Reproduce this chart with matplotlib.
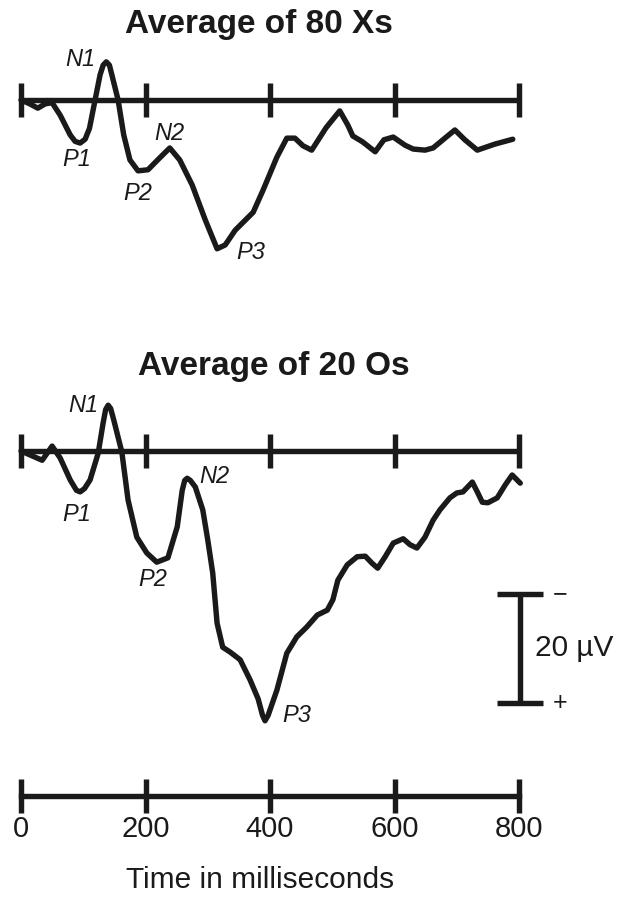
import matplotlib
matplotlib.use("Agg")
import matplotlib.pyplot as plt

plt.rcParams["font.family"] = ["Liberation Sans", "DejaVu Sans"]

# Tiempo (ms) y voltaje (µV, negativo hacia arriba) - promedio de 80 Xs
t_x = [0, 14, 27, 39, 50, 63, 79, 87, 95, 103, 110, 119, 127, 132, 137, 142,
       146, 156, 165, 175, 188, 204, 223, 239, 255, 275, 296, 315, 328, 344,
       373, 389, 411, 427, 440, 453, 467, 490, 512, 525, 533, 549, 569, 583,
       598, 617, 630, 649, 662, 681, 697, 713, 733, 761, 790]
v_x = [0, 0.7, 1.5, 0.7, 0.5, 2.8, 6.4, 7.6, 7.9, 7.2, 5.2, 0, -4.6, -6.4,
       -7.0, -6.4, -4.6, 0, 6.4, 11, 13, 12.8, 10.6, 8.8, 11, 15.6, 22, 27.3,
       26.6, 23.9, 20.6, 16.5, 10.5, 7, 7, 8.4, 9.2, 5.1, 2, 4.6, 6.6, 7.7,
       9.5, 7.3, 6.8, 8.3, 9, 9.2, 8.8, 7, 5.5, 7.3, 9.2, 8.1, 7.2]

# Promedio de 20 Os
t_o = [0, 34, 50, 63, 79, 89, 95, 102, 111, 124, 132, 136, 140, 144, 149,
       162, 172, 186, 202, 218, 236, 251, 259, 263, 267, 272, 280, 292, 300,
       308, 315, 324, 336, 352, 368, 381, 388, 392, 397, 411, 427, 443, 459,
       476, 492, 501, 509, 524, 540, 553, 564, 573, 585, 598, 614, 625, 636,
       649, 662, 673, 689, 700, 710, 725, 733, 741, 750, 765, 778, 789, 802]
v_o = [0, 1.7, -0.9, 1.3, 5.3, 7.2, 7.5, 6.9, 5.3, 0.4, -5.2, -7.6, -8.4,
       -7.8, -5.7, 0.2, 9, 15.8, 18.7, 20.4, 19.6, 13.9, 7.2, 5.4, 5, 5.4,
       6.6, 10.8, 16.3, 22.4, 31.6, 36, 36.9, 38.3, 42, 45.5, 48.5, 49.5,
       48.5, 43.9, 37.1, 34.1, 32.3, 30.1, 29.2, 27.3, 23.7, 20.9, 19.4,
       19.3, 20.6, 21.5, 19.4, 16.9, 16.1, 17.2, 17.8, 15.8, 12.7, 10.8, 8.6,
       7.7, 7.5, 5.7, 7.5, 9.4, 9.5, 8.6, 6.2, 4.4, 5.9]

# Etiquetas de los picos (texto, tiempo, voltaje)
picos_x = [("N1", 96, -7.5), ("P1", 90, 11), ("N2", 239, 6.2),
           ("P2", 188, 17.1), ("P3", 369, 27.9)]
picos_o = [("N1", 100, -8.3), ("P1", 90, 11.6), ("N2", 310, 4.6),
           ("P2", 212, 23.5), ("P3", 443, 48.6)]

ticks = [0, 200, 400, 600, 800]
escala_uv = 20
escala_t = 802
escala_v0 = 26.2

W, H = 625, 900
xlim = (-21 / 0.6225, (625 - 21) / 0.6225)
px_uv = 5.45
lw = 3.9
col = "#1a1a1a"


def panel(top, bottom, base):
    ax = fig.add_axes([0, 1 - bottom / H, 1, (bottom - top) / H])
    ax.set_xlim(*xlim)
    ax.set_ylim((bottom - base) / px_uv, (top - base) / px_uv)
    ax.axis("off")
    return ax


def eje(ax):
    ax.plot([0, 800], [0, 0], color=col, lw=lw, solid_capstyle="butt")
    ax.vlines(ticks, -17 / px_uv, 17 / px_uv, color=col, lw=lw)


fig = plt.figure(figsize=(W / 100, H / 100), dpi=100)

ax1 = panel(40, 290, 100)
eje(ax1)
ax1.plot(t_x, v_x, color=col, lw=lw, solid_capstyle="round",
         solid_joinstyle="round")
for txt, t, v in picos_x:
    ax1.text(t, v, txt, fontsize=17, style="italic", ha="center",
             va="center", color=col)

ax2 = panel(385, 745, 451)
eje(ax2)
ax2.plot(t_o, v_o, color=col, lw=lw, solid_capstyle="round",
         solid_joinstyle="round")
for txt, t, v in picos_o:
    ax2.text(t, v, txt, fontsize=17, style="italic", ha="center",
             va="center", color=col)

# Barra de escala
ax2.vlines(escala_t, escala_v0, escala_v0 + escala_uv, color=col, lw=lw)
ax2.hlines([escala_v0, escala_v0 + escala_uv], 765, 838, color=col, lw=lw)
ax2.text(866, escala_v0, "\u2212", fontsize=18, ha="center", va="center",
         color=col)
ax2.text(866, escala_v0 + escala_uv, "+", fontsize=18, ha="center",
         va="center", color=col)
ax2.text(826, escala_v0 + escala_uv / 2, f"{escala_uv} µV", fontsize=21.5,
         ha="left", va="center", color=col)

# Eje de tiempo
ax3 = fig.add_axes([0, 1 - 796 / H, 1, 30 / H])
ax3.set_xlim(*xlim)
for s in ["top", "left", "right"]:
    ax3.spines[s].set_visible(False)
ax3.spines["bottom"].set_bounds(0, 800)
ax3.spines["bottom"].set_linewidth(lw)
ax3.spines["bottom"].set_color(col)
ax3.set_yticks([])
ax3.set_xticks(ticks)
ax3.tick_params(axis="x", direction="inout", length=24.5, width=lw,
                color=col, labelsize=21, pad=1.5, labelcolor=col)

fig.text(259 / W, 1 - 24 / H, "Average of 80 Xs", fontsize=24,
         weight="bold", ha="center", va="center", color=col)
fig.text(274 / W, 1 - 366 / H, "Average of 20 Os", fontsize=24,
         weight="bold", ha="center", va="center", color=col)
fig.text(260 / W, 1 - 880 / H, "Time in milliseconds", fontsize=21.5,
         ha="center", va="center", color=col)

plt.savefig("out.png", dpi=100)
